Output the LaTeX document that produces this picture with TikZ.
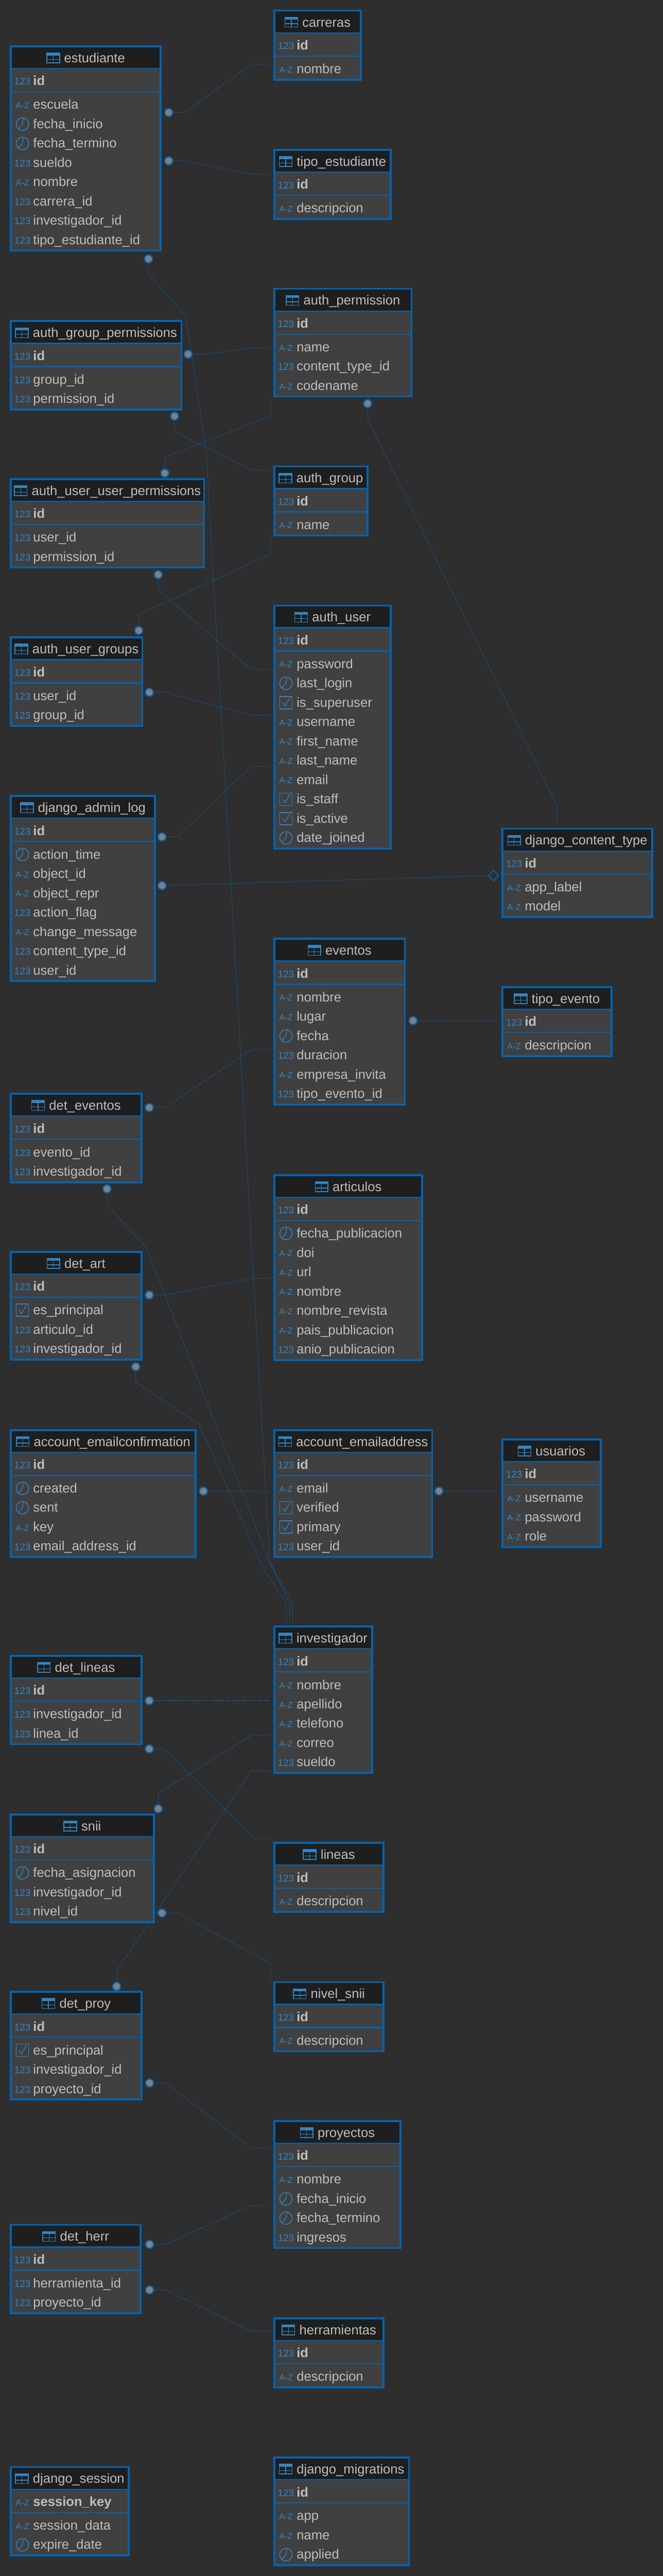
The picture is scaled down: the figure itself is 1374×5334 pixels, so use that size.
\documentclass[tikz,border=0pt]{standalone}
\usepackage{fontspec}
\setmainfont{Liberation Sans}
\usetikzlibrary{shapes.geometric}
\catcode`\_=12
\definecolor{canvascol}{HTML}{2E2E2E}
\definecolor{headcol}{HTML}{1E1E1E}
\definecolor{bodycol}{HTML}{404040}
\definecolor{framecol}{HTML}{0563AF}
\definecolor{tagcol}{HTML}{2F86C8}
\definecolor{textcol}{HTML}{BEBEBE}
\definecolor{dotcol}{HTML}{808080}
\tikzset{
  tabframe/.style={draw=framecol,line width=4pt,fill=bodycol,anchor=north west,inner sep=0pt,outer sep=0pt},
  tabsep/.style={draw=framecol,line width=2.5pt},
  tabtitle/.style={anchor=base,inner sep=0pt,text=textcol,font=\fontsize{27.3}{32}\selectfont},
  tabicon/.style={draw=tagcol,line width=1.6pt,minimum width=26.5pt,minimum height=20.5pt,inner sep=0pt,outer sep=0pt},
  fieldname/.style={anchor=base west,inner sep=0pt,text=textcol,font=\fontsize{27.3}{32}\selectfont},
  keyname/.style={fieldname,font=\fontsize{27.3}{32}\selectfont\bfseries},
  tagnum/.style={anchor=base,yshift=-8pt,inner sep=0pt,text=tagcol,font=\fontsize{20}{24}\selectfont},
  tagaz/.style={anchor=base,yshift=-7.5pt,inner sep=0pt,text=tagcol,font=\fontsize{17.5}{24}\selectfont},
  tagclock/.style={circle,draw=tagcol,line width=1.6pt,minimum size=26pt,inner sep=0pt,outer sep=0pt},
  tagcheck/.style={draw=tagcol,line width=1.6pt,minimum size=25.5pt,inner sep=0pt,outer sep=0pt},
  tagline/.style={draw=tagcol,line width=1.4pt},
  rel/.style={draw=framecol,line width=1.2pt,dash pattern=on 1.6pt off 1.4pt},
  dot/.style={circle,draw=framecol,line width=2.5pt,fill=dotcol,minimum size=16.5pt,inner sep=0pt},
  fkdiamond/.style={diamond,aspect=1,draw=framecol,line width=2pt,minimum size=22pt,inner sep=0pt}
}
\newcommand{\tagn}[2]{\node[tagnum] (#1) at (#2) {123};}
\newcommand{\taga}[2]{\node[tagaz] (#1) at (#2) {A-Z};}
\newcommand{\tagc}[2]{\node[tagclock] (#1) at (#2) {};
  \draw[tagline] ([shift={(1.5pt,11pt)}]#1.center) -- (#1.center) -- ([shift={(-8pt,-9pt)}]#1.center);}
\newcommand{\tagb}[2]{\node[tagcheck] (#1) at (#2) {};
  \draw[tagline] ([shift={(-7pt,0pt)}]#1.center) -- ([shift={(-2pt,-7pt)}]#1.center) -- ([shift={(8pt,10pt)}]#1.center);}
% name, left, right, top, number of rows, key tag, key name, rows
\newcommand{\dbtable}[8]{
  \pgfmathsetmacro\tabw{#3-#2-4}
  \pgfmathsetmacro\tabh{103+40*#5}
  \node[tabframe,minimum width=\tabw pt,minimum height=\tabh pt] (#1) at (#2+2,#4+2) {};
  \fill[headcol] (#2+2,#4+2) rectangle (#3-2,#4+48);
  \draw[tabsep] (#2+2,#4+48) -- (#3-2,#4+48);
  \draw[tabsep] (#2+2,#4+96) -- (#3-2,#4+96);
  \draw[framecol,line width=4pt] (#1.north west) rectangle (#1.south east);
  \node[tabtitle] (#1-title) at ({(#2+#3)/2+18.3},#4+35.5) {#1};
  \node[tabicon] (#1-icon) at ([shift={(-22.6pt,9.5pt)}]#1-title.base west) {};
  \fill[tagcol] (#1-icon.north west) rectangle ([yshift=-5pt]#1-icon.north east);
  \draw[tagcol,line width=1.4pt] (#1-icon.north) -- (#1-icon.south);
  \draw[tagcol,line width=1.4pt] ([yshift=-3pt]#1-icon.west) -- ([yshift=-3pt]#1-icon.east);
  \csname tag#6\endcsname{#1-keytag}{#2+26,#4+74}
  \node[keyname] (#1-key) at (#2+48,#4+83) {#7};
  \foreach \k/\f [count=\i] in {#8} {
    \pgfmathsetmacro\rowy{#4+123+40*(\i-1)}
    \csname tag\k\endcsname{#1-tag\i}{#2+26,\rowy}
    \node[fieldname] (#1-row\i) at (#2+48,\rowy+9) {\f};
  }
}
\begin{document}
\begin{tikzpicture}[x=1pt,y=-1pt]
\useasboundingbox (0,0) rectangle (1374,5334);
\fill[canvascol] (0,0) rectangle (1374,5334);

\node[dot] (d1) at (349.6,233) {};
\coordinate (e1) at (560,133);
\draw[rel] (d1) -- (382,233) -- (521,133) -- (e1);
\node[dot] (d2) at (349.6,333) {};
\coordinate (e2) at (560,361);
\draw[rel] (d2) -- (382,333) -- (521,361) -- (e2);
\node[dot] (d3) at (307.7,536) {};
\coordinate (e3) at (606.5,3360);
\draw[rel] (d3) -- (307.7,568) -- (384.6,653.6) -- (427,930) -- (559,3234.7) -- (606.5,3319) -- (e3);
\node[dot] (d4) at (389.8,733.5) {};
\coordinate (e4) at (560,721);
\draw[rel] (d4) -- (422,733.5) -- (521,721) -- (e4);
\node[dot] (d5) at (361.7,861.7) {};
\coordinate (e5) at (560,973);
\draw[rel] (d5) -- (361.7,893.4) -- (521,973) -- (e5);
\node[dot] (d6) at (341.6,979.6) {};
\coordinate (e6) at (561,823);
\draw[rel] (d6) -- (341.6,947) -- (561,861) -- (e6);
\node[dot] (d7) at (761.8,835.7) {};
\coordinate (e7) at (1153.4,1706);
\draw[rel] (d7) -- (761.8,868) -- (1153.4,1666) -- (e7);
\node[dot] (d8) at (327.8,1189.8) {};
\coordinate (e8) at (560,1386.7);
\draw[rel] (d8) -- (327.8,1221) -- (520,1386.7) -- (e8);
\node[dot] (d9) at (287.6,1305.6) {};
\coordinate (e9) at (561,1107.6);
\draw[rel] (d9) -- (287.6,1272.4) -- (561,1147.4) -- (e9);
\node[dot] (d10) at (309.4,1433.5) {};
\coordinate (e10) at (560,1481);
\draw[rel] (d10) -- (341.8,1433.5) -- (521,1481) -- (e10);
\node[dot] (d11) at (335.7,1733) {};
\coordinate (e11) at (560,1586.7);
\draw[rel] (d11) -- (368,1733) -- (521,1586.7) -- (e11);
\node[dot] (d12) at (335.7,1833.7) {};
\node[fkdiamond] (e12) at (1022.8,1813) {};
\draw[rel] (d12) -- (e12);
\node[dot] (d13) at (856,2113.5) {};
\coordinate (e13) at (1033,2113.5);
\draw[rel] (d13) -- (e13);
\node[dot] (d14) at (309.4,2293.4) {};
\coordinate (e14) at (560,2173);
\draw[rel] (d14) -- (341.8,2293.4) -- (521,2173) -- (e14);
\node[dot] (d15) at (309.4,2681.5) {};
\coordinate (e15) at (560,2647);
\draw[rel] (d15) -- (341.8,2681.5) -- (523,2647) -- (e15);
\node[dot] (d16) at (221.7,2461.7) {};
\coordinate (e16) at (600,3360);
\draw[rel] (d16) -- (221.7,2494.4) -- (302.4,2582.7) -- (559,3234.7) -- (600,3319) -- (e16);
\node[dot] (d17) at (281.3,2830) {};
\coordinate (e17) at (593.3,3360);
\draw[rel] (d17) -- (281.3,2861.7) -- (413.7,2950) -- (543.4,3245) -- (593.3,3319) -- (e17);
\node[dot] (d18) at (421.6,3087.5) {};
\coordinate (e18) at (560,3087.5);
\draw[rel] (d18) -- (e18);
\node[dot] (d19) at (909.7,3087.5) {};
\coordinate (e19) at (1031.5,3087.5);
\draw[rel] (d19) -- (e19);
\node[dot] (d20) at (309.4,3521.4) {};
\coordinate (e20) at (560,3521.4);
\draw[rel] (d20) -- (e20);
\node[dot] (d21) at (309.4,3621.4) {};
\coordinate (e21) at (562,3807);
\draw[rel] (d21) -- (340,3621.4) -- (528,3807) -- (e21);
\node[dot] (d22) at (327.8,3745.4) {};
\coordinate (e22) at (560,3592.9);
\draw[rel] (d22) -- (327.8,3712.8) -- (521,3592.9) -- (e22);
\node[dot] (d23) at (241.7,4113) {};
\coordinate (e23) at (560,3666.8);
\draw[rel] (d23) -- (241.7,4080.6) -- (521,3666.8) -- (e23);
\node[dot] (d24) at (335.8,3961.2) {};
\coordinate (e24) at (561,4098);
\draw[rel] (d24) -- (367.4,3961.2) -- (561,4065.3) -- (e24);
\node[dot] (d25) at (310,4313) {};
\coordinate (e25) at (560,4447);
\draw[rel] (d25) -- (342.7,4313) -- (520,4447) -- (e25);
\node[dot] (d26) at (310,4647.3) {};
\coordinate (e26) at (560,4567);
\draw[rel] (d26) -- (342.7,4647.3) -- (520,4567) -- (e26);
\node[dot] (d27) at (310,4741.5) {};
\coordinate (e27) at (560,4827);
\draw[rel] (d27) -- (342.7,4741.5) -- (520,4827) -- (e27);

\dbtable{carreras}{566.6}{750}{20}{1}{n}{id}{a/nombre}
\dbtable{estudiante}{20.5}{335}{94}{8}{n}{id}{a/escuela,c/fecha_inicio,c/fecha_termino,n/sueldo,a/nombre,n/carrera_id,n/investigador_id,n/tipo_estudiante_id}
\dbtable{tipo_estudiante}{566.6}{812}{308.5}{1}{n}{id}{a/descripcion}
\dbtable{auth_permission}{566.6}{855}{596}{3}{n}{id}{a/name,n/content_type_id,a/codename}
\dbtable{auth_group_permissions}{20.5}{378}{663}{2}{n}{id}{n/group_id,n/permission_id}
\dbtable{auth_group}{566.6}{763.5}{964}{1}{n}{id}{a/name}
\dbtable{auth_user_user_permissions}{20.5}{425}{990}{2}{n}{id}{n/user_id,n/permission_id}
\dbtable{auth_user_groups}{20.5}{297}{1318}{2}{n}{id}{n/user_id,n/group_id}
\dbtable{auth_user}{566.6}{812}{1252}{10}{n}{id}{a/password,c/last_login,b/is_superuser,a/username,a/first_name,a/last_name,a/email,b/is_staff,b/is_active,c/date_joined}
\dbtable{django_admin_log}{20.5}{323.4}{1646.4}{7}{n}{id}{c/action_time,a/object_id,a/object_repr,n/action_flag,a/change_message,n/content_type_id,n/user_id}
\dbtable{django_content_type}{1039.4}{1354}{1714}{2}{n}{id}{a/app_label,a/model}
\dbtable{eventos}{566.6}{841}{1942}{6}{n}{id}{a/nombre,a/lugar,c/fecha,n/duracion,a/empresa_invita,n/tipo_evento_id}
\dbtable{tipo_evento}{1039.4}{1269}{2042}{1}{n}{id}{a/descripcion}
\dbtable{det_eventos}{20.5}{295}{2263}{2}{n}{id}{n/evento_id,n/investigador_id}
\dbtable{articulos}{566.6}{877}{2431}{7}{n}{id}{c/fecha_publicacion,a/doi,a/url,a/nombre,a/nombre_revista,a/pais_publicacion,n/anio_publicacion}
\dbtable{det_art}{20.5}{295}{2590}{3}{n}{id}{b/es_principal,n/articulo_id,n/investigador_id}
\dbtable{account_emailconfirmation}{20.5}{407.5}{2959}{4}{n}{id}{c/created,c/sent,a/key,n/email_address_id}
\dbtable{account_emailaddress}{566.6}{897.5}{2959}{4}{n}{id}{a/email,b/verified,b/primary,n/user_id}
\dbtable{usuarios}{1039.4}{1247}{2978.6}{3}{n}{id}{a/username,a/password,a/role}
\dbtable{investigador}{566.6}{773}{3366}{5}{n}{id}{a/nombre,a/apellido,a/telefono,a/correo,n/sueldo}
\dbtable{det_lineas}{20.5}{295}{3426.5}{2}{n}{id}{n/investigador_id,n/linea_id}
\dbtable{snii}{20.5}{321}{3755}{3}{n}{id}{c/fecha_asignacion,n/investigador_id,n/nivel_id}
\dbtable{lineas}{566.6}{797}{3814}{1}{n}{id}{a/descripcion}
\dbtable{nivel_snii}{566.6}{797}{4102.5}{1}{n}{id}{a/descripcion}
\dbtable{det_proy}{20.5}{295.6}{4122.4}{3}{n}{id}{b/es_principal,n/investigador_id,n/proyecto_id}
\dbtable{proyectos}{566.6}{832}{4390}{4}{n}{id}{a/nombre,c/fecha_inicio,c/fecha_termino,n/ingresos}
\dbtable{det_herr}{20.5}{293.3}{4604.8}{2}{n}{id}{n/herramienta_id,n/proyecto_id}
\dbtable{herramientas}{566.6}{797}{4798.4}{1}{n}{id}{a/descripcion}
\dbtable{django_session}{20.5}{269}{5106.4}{2}{a}{session_key}{a/session_data,c/expire_date}
\dbtable{django_migrations}{566.6}{849.6}{5086.7}{3}{n}{id}{a/app,a/name,c/applied}
\end{tikzpicture}
\end{document}
